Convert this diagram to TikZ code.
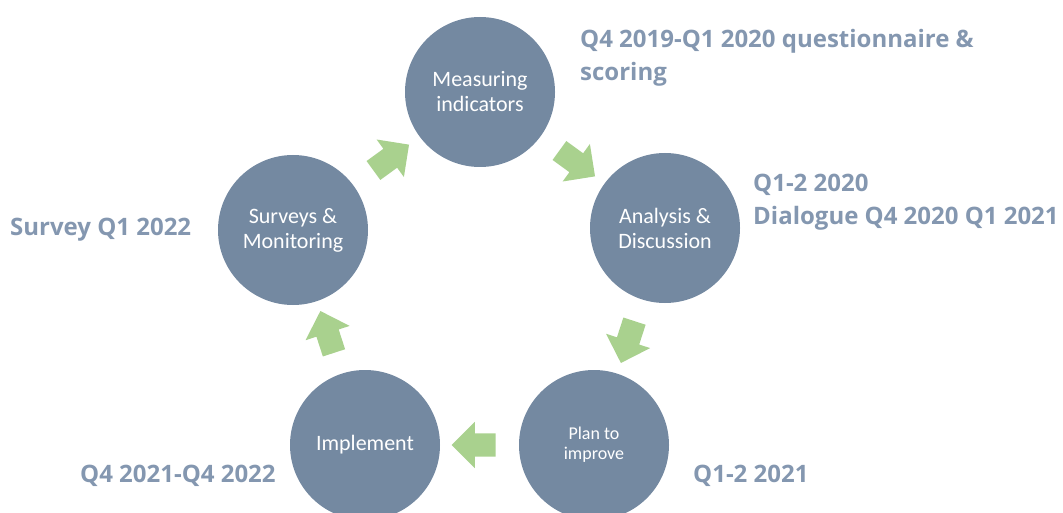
\documentclass[tikz,border=0pt]{standalone}
\usepackage{tikz}
\usepackage{xcolor}
\usepackage{fontspec}
\setmainfont{Carlito}
\newfontfamily\labelfont{Open Sans}
\usetikzlibrary{calc,
	positioning,
	shapes,
	shapes.arrows}
\definecolor{phasecol}{HTML}{7489A1}
\definecolor{turncol}{HTML}{A9D18E}
\definecolor{whencol}{HTML}{8497B0}

\begin{document}
\begin{tikzpicture}[x=1pt,y=-1pt,
	phase/.style={circle,fill=phasecol,minimum size=150pt,inner sep=0pt,text=white,align=center,font=\fontsize{22}{25}\selectfont},
	turn/.style={single arrow,fill=turncol,minimum height=44pt,minimum width=46pt,single arrow head extend=11.5pt,single arrow tip angle=90,inner xsep=0pt,inner ysep=11.5pt},
	when/.style={anchor=west,inner sep=0pt,align=left,text=whencol,font=\labelfont\bfseries\fontsize{24}{33}\selectfont}]
	\useasboundingbox (0,0) rectangle (1063,513);
	\clip (0,0) rectangle (1063,513);
	% the five phases
	\node[phase] (meas) at (480,92) {Measuring\\indicators};
	\node[phase] (anal) at (665,228) {Analysis \&\\Discussion};
	\node[phase,font=\fontsize{18}{20}\selectfont] (plan) at (594,445) {Plan to\\improve};
	\node[phase] (impl) at (365,445) {Implement};
	\node[phase] (surv) at (293,230) {Surveys \&\\Monitoring};
	% arrows between them
	\node[turn,rotate=36] (t1) at ($(surv)!0.5!(meas)$) {};
	\node[turn,rotate=-36] (t2) at ($(meas)!0.5!(anal)$) {};
	\node[turn,rotate=-108] (t3) at ($(anal)!0.5!(plan)$) {};
	\node[turn,rotate=180] (t4) at ($(plan)!0.5!(impl)$) {};
	\node[turn,rotate=108] (t5) at ($(impl)!0.5!(surv)$) {};
	% dates
	\node[when] (wmeas) at (580,58) {Q4 2019-Q1 2020 questionnaire \&\\scoring};
	\node[when] (wanal) at (753,202) {Q1-2 2020\\Dialogue Q4 2020 Q1 2021};
	\node[when] (wsurv) at (10,230) {Survey Q1 2022};
	\node[when] (wimpl) at (80,476) {Q4 2021-Q4 2022};
	\node[when] (wplan) at (693,476) {Q1-2 2021};
\end{tikzpicture}
\end{document}
